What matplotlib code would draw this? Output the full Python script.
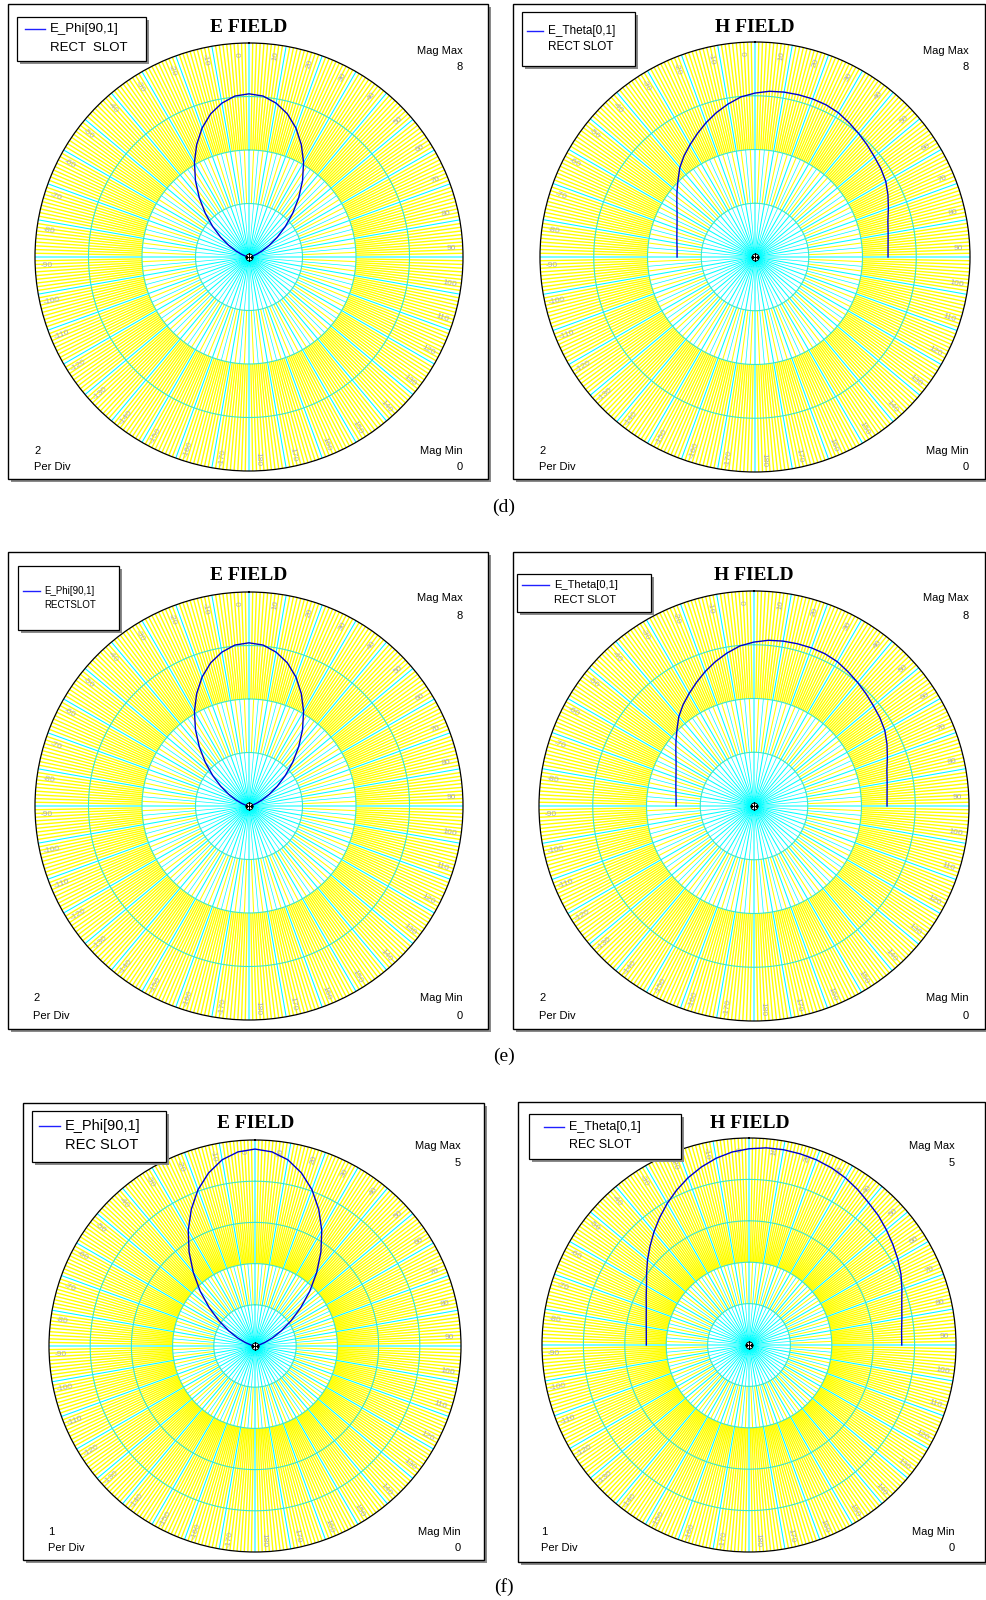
import numpy as np
import matplotlib
matplotlib.use("Agg")
import matplotlib.pyplot as plt
from matplotlib.patches import Rectangle

W, H = 986, 1600

# angles (deg, clockwise from top) at which the patterns were read
ANGLES = np.arange(-90, 91, 5)

# rectangular slot, panels (d) and (e)
E_PHI_RECT = [0.00, 0.01, 0.05, 0.14, 0.30, 0.55, 0.88, 1.29, 1.77, 2.31, 2.89, 3.49,
              4.08, 4.63, 5.13, 5.54, 5.84, 6.04, 6.10, 6.04, 5.84, 5.54, 5.13, 4.63,
              4.08, 3.49, 2.89, 2.31, 1.77, 1.29, 0.88, 0.55, 0.30, 0.14, 0.05, 0.01, 0.00]
E_THETA_RECT = [2.90, 2.91, 2.95, 3.01, 3.09, 3.20, 3.35, 3.55, 3.79, 4.05, 4.35, 4.60,
                4.83, 5.07, 5.32, 5.56, 5.78, 5.98, 6.10, 6.19, 6.23, 6.25, 6.26, 6.25,
                6.20, 6.10, 6.00, 5.90, 5.80, 5.72, 5.62, 5.46, 5.28, 5.12, 5.03, 4.97, 4.95]

# rec slot, panel (f)
E_PHI_REC = [0.00, 0.01, 0.04, 0.12, 0.26, 0.47, 0.74, 1.07, 1.45, 1.88, 2.33, 2.79,
             3.24, 3.66, 4.04, 4.35, 4.59, 4.73, 4.78, 4.73, 4.59, 4.35, 4.04, 3.66,
             3.24, 2.79, 2.33, 1.88, 1.45, 1.07, 0.74, 0.47, 0.26, 0.12, 0.04, 0.01, 0.00]
E_THETA_REC = [2.48, 2.49, 2.52, 2.57, 2.64, 2.74, 2.86, 3.02, 3.20, 3.38, 3.57, 3.76,
               3.95, 4.13, 4.30, 4.45, 4.58, 4.68, 4.74, 4.78, 4.79, 4.78, 4.76, 4.72,
               4.66, 4.58, 4.49, 4.42, 4.33, 4.24, 4.15, 4.05, 3.93, 3.82, 3.75, 3.70, 3.69]

ANGLE_TICKS = list(range(-170, 181, 10))

YELLOW = "#ffff00"
CYAN = "#00ffff"
RING = "#3ee6c8"
CURVE = "#0000cc"
LABEL_GRAY = "#adadad"

SANS = ["Liberation Sans", "DejaVu Sans"]
SERIF = ["Liberation Serif", "DejaVu Serif"]


def fx(x):
    return x / W


def fy(y):
    return 1 - y / H


def box(fig, x0, y0, x1, y1, z, shadow=3, lw=0.9):
    sh = Rectangle((fx(x0 + shadow), fy(y1 + shadow)), (x1 - x0) / W, (y1 - y0) / H,
                   transform=fig.transFigure, facecolor="#8a8a8a", edgecolor="none", zorder=z)
    fr = Rectangle((fx(x0), fy(y1)), (x1 - x0) / W, (y1 - y0) / H,
                   transform=fig.transFigure, facecolor="white", edgecolor="black",
                   linewidth=lw, zorder=z + 0.1)
    fig.add_artist(sh)
    fig.add_artist(fr)


def spokes(ax, angles, r0, r1, color, lw):
    angles = np.asarray(angles, dtype=float)
    th = np.deg2rad(np.repeat(angles, 3))
    th[2::3] = np.nan
    rr = np.tile([r0, r1, np.nan], len(angles))
    ax.plot(th, rr, color=color, lw=lw, solid_capstyle="butt", zorder=1)


def polar_panel(fig, p):
    cx, cy, r = p["center"]
    per, ndiv = p["per_div"], p["ndiv"]
    rmax = per * ndiv
    x0, y0, x1, y1 = p["frame"]
    box(fig, x0, y0, x1, y1, z=-2, shadow=3, lw=1.0)

    ax = fig.add_axes([fx(cx - r), fy(cy + r), 2 * r / W, 2 * r / H], projection="polar")
    ax.set_theta_zero_location("N")
    ax.set_theta_direction(-1)
    ax.set_ylim(0, rmax)
    ax.set_xticks([])
    ax.set_yticks([])
    ax.grid(False)
    ax.spines["polar"].set_color("black")
    ax.spines["polar"].set_linewidth(0.9)

    spokes(ax, [a for a in range(360) if a % 10], 2 * per, rmax, YELLOW, 1.0)
    spokes(ax, np.arange(2.5, 360, 5), per, 2 * per, YELLOW, 0.75)
    spokes(ax, [a for a in range(0, 360, 5) if a % 10], 0, 2 * per, CYAN, 0.5)
    spokes(ax, range(0, 360, 10), 0, rmax, CYAN, 0.75)

    full = np.linspace(0, 2 * np.pi, 721)
    for k in range(1, ndiv):
        ax.plot(full, np.full_like(full, k * per), color=RING, lw=0.8, zorder=2)

    for a in ANGLE_TICKS:
        rot = 90 - a if a >= 0 else -90 - a
        ax.text(np.deg2rad(a - 2.5), 0.945 * rmax, str(a), fontsize=6, color=LABEL_GRAY,
                family=SANS, rotation=rot, rotation_mode="anchor",
                ha="center", va="center", zorder=3)

    ax.plot(np.deg2rad(ANGLES), p["values"], color=CURVE, lw=1.0, zorder=5)
    ax.plot(0, 0, marker="o", ms=5, mfc="white", mec="black", mew=0.7, zorder=6)
    ax.plot(0, 0, marker="+", ms=6, mec="black", mew=0.8, zorder=7)

    # header and corner texts
    fig.text(fx(p["title_xy"][0]), fy(p["title_xy"][1]), p["title"], family=SERIF,
             fontweight="bold", fontsize=14, ha="center", va="center")
    xl, xr = p["left_x"], p["right_x"]
    yt1, yt2 = p["top_y"]
    yb1, yb2 = p["bottom_y"]
    fs = 8
    fig.text(fx(xr), fy(yt1), "Mag Max", family=SANS, fontsize=fs, ha="right", va="center")
    fig.text(fx(xr), fy(yt2), str(rmax), family=SANS, fontsize=fs, ha="right", va="center")
    fig.text(fx(xl), fy(yb1), str(per), family=SANS, fontsize=fs, ha="left", va="center")
    fig.text(fx(xl), fy(yb2), "Per Div", family=SANS, fontsize=fs, ha="left", va="center")
    fig.text(fx(xr), fy(yb1), "Mag Min", family=SANS, fontsize=fs, ha="right", va="center")
    fig.text(fx(xr), fy(yb2), "0", family=SANS, fontsize=fs, ha="right", va="center")

    # legend box
    lx0, ly0, lx1, ly1 = p["legend_box"]
    box(fig, lx0, ly0, lx1, ly1, z=3, shadow=3, lw=0.9)
    sx0, sx1 = p["legend_line"]
    tx, ty1, ty2 = p["legend_text"]
    fig.add_artist(plt.Line2D([fx(sx0), fx(sx1)], [fy(ty1), fy(ty1)], color="#2020ff",
                              lw=1.0, transform=fig.transFigure, zorder=4))
    fig.text(fx(tx), fy(ty1), p["legend"][0], family=SANS, fontsize=p["legend_fs"],
             ha="left", va="center", zorder=4)
    fig.text(fx(tx), fy(ty2), p["legend"][1], family=SANS, fontsize=p["legend_fs"],
             ha="left", va="center", zorder=4)


panels = [
    dict(frame=(8, 4, 488, 479), center=(249, 257, 214), per_div=2, ndiv=4,
         values=E_PHI_RECT, title="E FIELD", title_xy=(249, 27),
         left_x=34, right_x=463, top_y=(51, 67), bottom_y=(451, 467),
         legend=("E_Phi[90,1]", "RECT  SLOT"), legend_fs=9.5,
         legend_box=(17, 17, 146, 61), legend_line=(25, 45), legend_text=(50, 29, 48)),
    dict(frame=(513, 4, 985, 479), center=(755, 257, 215), per_div=2, ndiv=4,
         values=E_THETA_RECT, title="H FIELD", title_xy=(755, 27),
         left_x=539, right_x=969, top_y=(51, 67), bottom_y=(451, 467),
         legend=("E_Theta[0,1]", "RECT SLOT"), legend_fs=8.5,
         legend_box=(522, 12, 635, 66), legend_line=(527, 543), legend_text=(548, 31, 47)),
    dict(frame=(8, 552, 488, 1029), center=(249, 806, 214), per_div=2, ndiv=4,
         values=E_PHI_RECT, title="E FIELD", title_xy=(249, 576),
         left_x=33, right_x=463, top_y=(598, 616), bottom_y=(998, 1016),
         legend=("E_Phi[90,1]", "RECTSLOT"), legend_fs=7,
         legend_box=(18, 566, 119, 630), legend_line=(23, 40), legend_text=(44, 591, 605)),
    dict(frame=(513, 552, 985, 1029), center=(754, 806, 215), per_div=2, ndiv=4,
         values=E_THETA_RECT, title="H FIELD", title_xy=(754, 576),
         left_x=539, right_x=969, top_y=(598, 616), bottom_y=(998, 1016),
         legend=("E_Theta[0,1]", "RECT SLOT"), legend_fs=8,
         legend_box=(517, 574, 651, 612), legend_line=(522, 549), legend_text=(554, 585, 600)),
    dict(frame=(23, 1103, 484, 1560), center=(255, 1346, 206), per_div=1, ndiv=5,
         values=E_PHI_REC, title="E FIELD", title_xy=(256, 1123),
         left_x=48, right_x=461, top_y=(1146, 1163), bottom_y=(1532, 1548),
         legend=("E_Phi[90,1]", "REC SLOT"), legend_fs=10.5,
         legend_box=(32, 1111, 166, 1162), legend_line=(39, 60), legend_text=(65, 1126, 1145)),
    dict(frame=(518, 1102, 985, 1562), center=(749, 1345, 207), per_div=1, ndiv=5,
         values=E_THETA_REC, title="H FIELD", title_xy=(750, 1123),
         left_x=541, right_x=955, top_y=(1146, 1163), bottom_y=(1532, 1548),
         legend=("E_Theta[0,1]", "REC SLOT"), legend_fs=9,
         legend_box=(529, 1114, 681, 1159), legend_line=(544, 564), legend_text=(569, 1127, 1145)),
]

fig = plt.figure(figsize=(W / 100, H / 100), dpi=100)
fig.patch.set_facecolor("white")

for p in panels:
    polar_panel(fig, p)

for label, y in [("(d)", 507), ("(e)", 1056), ("(f)", 1587)]:
    fig.text(fx(504), fy(y), label, family=SERIF, fontsize=14, ha="center", va="center")

fig.savefig("out.png", dpi=100)
